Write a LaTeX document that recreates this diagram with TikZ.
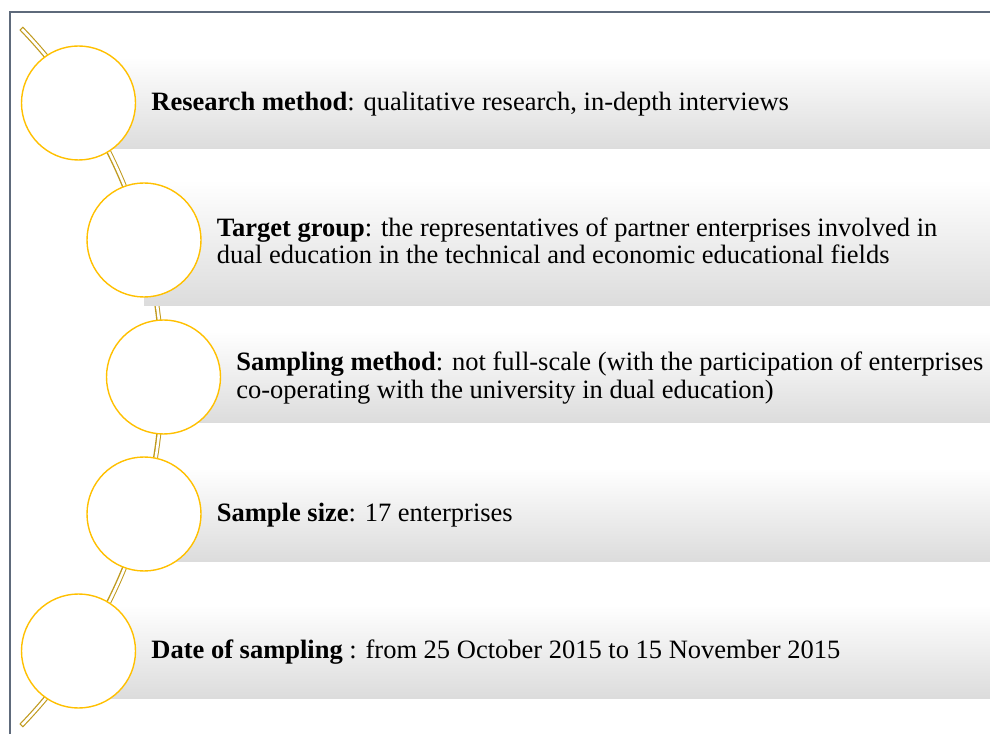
\documentclass[tikz,border=0pt]{standalone}
\usepackage{fontspec}
\setmainfont{Liberation Serif}
\definecolor{circgold}{HTML}{FFC000}
\definecolor{arcgold}{HTML}{C09A1E}
\definecolor{framegray}{HTML}{5E6A7B}
\definecolor{bandgray}{HTML}{DCDCDC}

\begin{document}
\begin{tikzpicture}[x=1pt,y=1pt,
  dot/.style={circle,draw=circgold,fill=white,line width=1.4pt,minimum size=114pt,inner sep=0pt},
  band/.style={top color=white,middle color=white,bottom color=bandgray},
  txt/.style={anchor=west,align=left,inner sep=0pt,font=\fontsize{26.5}{27.5}\selectfont},
  rail/.style={draw=arcgold,line width=5pt,postaction={draw=white,line width=2.6pt,shorten <=1.2pt,shorten >=1.2pt}}]
\useasboundingbox (0,0) rectangle (990,734);
\draw[framegray,line width=2pt] (10,0) -- (10,722) -- (990,722);

\coordinate (top) at ([shift={(-340,357)}]44:502);
\draw[rail] (top) arc[start angle=44,end angle=-44,radius=502];

\shade[band] (78.5,585) rectangle (990,677);
\shade[band] (144,428) rectangle (990,554);
\shade[band] (163.5,311) rectangle (990,403);
\shade[band] (144,173) rectangle (990,266);
\shade[band] (78.5,36) rectangle (990,129);

\node[dot] (c1) at (78.5,631) {};
\node[dot] (c2) at (144,494) {};
\node[dot] (c3) at (163.5,357) {};
\node[dot] (c4) at (144,220) {};
\node[dot] (c5) at (78.5,83) {};

\node[txt] (t1) at ([xshift=15pt,yshift=-1pt]c1.east) {\textbf{Research method}: qualitative research, in-depth interviews};
\node[txt] (t2) at ([xshift=15pt,yshift=-1pt]c2.east) {\textbf{Target group}: the representatives of partner enterprises involved in\\dual education in the technical and economic educational fields};
\node[txt] (t3) at ([xshift=15pt,yshift=-1pt]c3.east) {\textbf{Sampling method}: not full-scale (with the participation of enterprises\\co-operating with the university in dual education)};
\node[txt] (t4) at ([xshift=15pt,yshift=-1pt]c4.east) {\textbf{Sample size}: 17 enterprises};
\node[txt] (t5) at ([xshift=15pt,yshift=-1pt]c5.east) {\textbf{Date of sampling} : from 25 October 2015 to 15 November 2015};
\end{tikzpicture}
\end{document}
